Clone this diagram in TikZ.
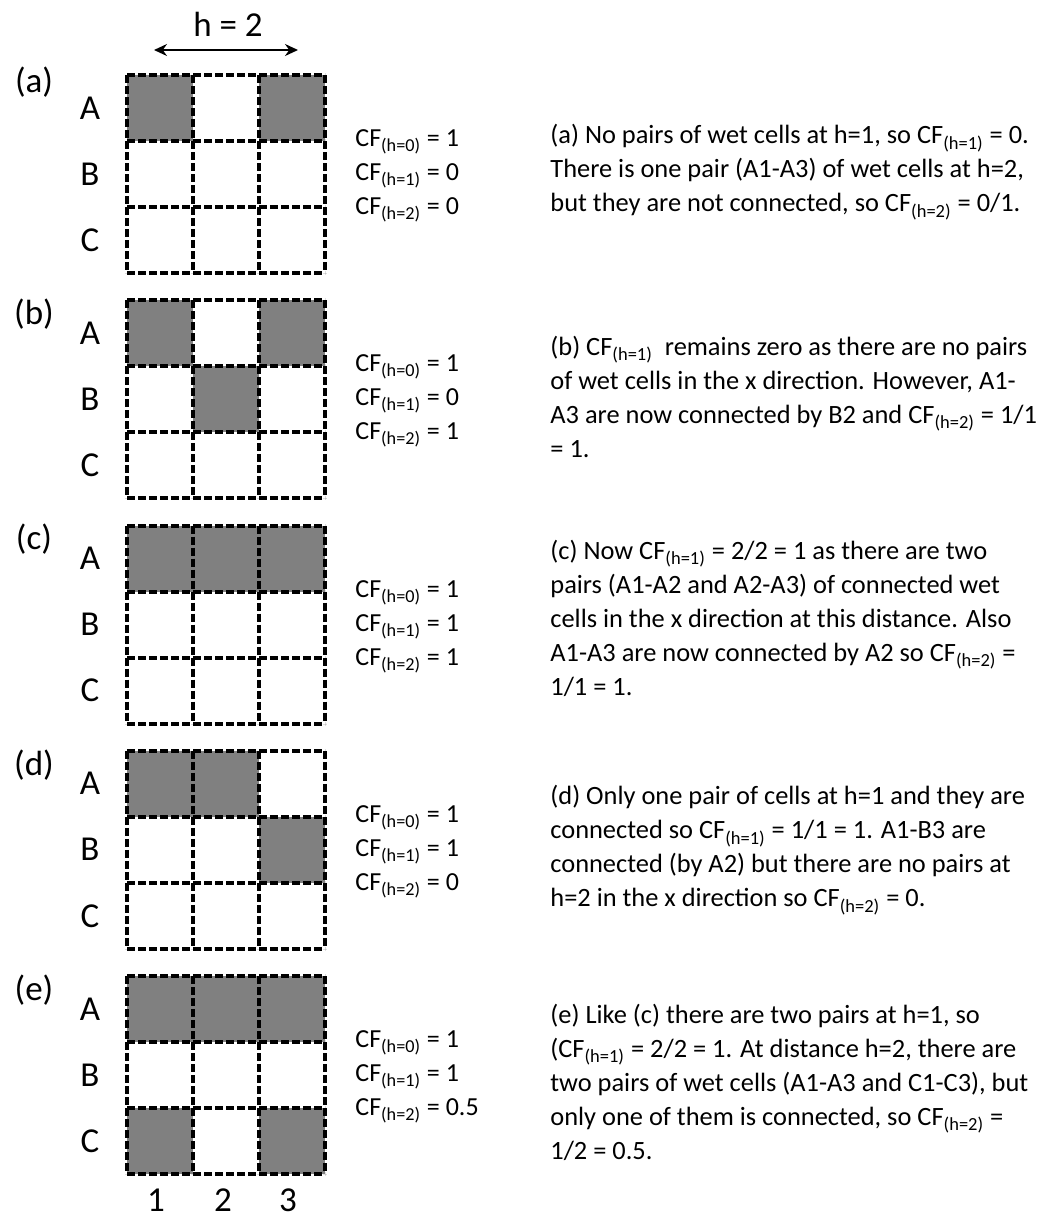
\documentclass[tikz,border=0pt]{standalone}
\usepackage{fontspec}
\setmainfont{Carlito}
\usetikzlibrary{arrows.meta,positioning}
\definecolor{wetgray}{RGB}{128,128,128}
\newcommand{\cfh}[1]{CF\textsubscript{(h=#1)}}

\begin{document}
\begin{tikzpicture}[x=0.5pt, y=-0.5pt,
    gridline/.style={line width=2pt, dash pattern=on 4pt off 1.5pt},
    wet/.style={fill=wetgray},
    biglab/.style={font=\fontsize{17.5}{20}\selectfont, inner sep=0pt},
    cfbox/.style={anchor=west, align=left, inner sep=0pt, font=\fontsize{13}{17}\selectfont},
    note/.style={anchor=west, align=left, inner sep=0pt, font=\fontsize{13.2}{17}\selectfont}]
  \useasboundingbox (0,0) rectangle (1059,1217);

  % lag distance
  \node[biglab] (hlab) at (228,24) {h = 2};
  \coordinate (hl) at (154,50);
  \coordinate (hr) at (298,50);
  \draw[line width=0.8pt, {Stealth[length=6.5pt,width=6pt]}-{Stealth[length=6.5pt,width=6pt]}] (hl) -- (hr);

  % the five grids
  \foreach \p/\wetlist/\cfa/\cfb/\dy [count=\i from 0] in
      {a/{0/0,2/0}/0/0/7, b/{0/0,2/0,1/1}/0/1/14, c/{0/0,1/0,2/0}/1/1/14,
       d/{0/0,1/0,2/1}/1/0/14, e/{0/0,1/0,2/0,0/2,2/2}/1/0.5/14} {
    \pgfmathsetmacro\t{75+225.25*\i}
    \foreach \c/\r in \wetlist
      \fill[wet] (127+66*\c, \t+66*\r) rectangle ++(66,66);
    \foreach \k in {0,...,3} {
      \draw[gridline] (127+66*\k, \t) -- ++(0,198);
      \draw[gridline] (127, \t+66*\k) -- ++(198,0);
    }
    \node[biglab] (lab-\p) at (34, \t+\dy) {(\p)};
    \node[biglab] (row-\p-A) at (90, \t+33) {A};
    \node[biglab] (row-\p-B) at (90, \t+99) {B};
    \node[biglab] (row-\p-C) at (90, \t+165) {C};
    \node[cfbox] (cf-\p) at (355, \t+101) {\cfh{0} = 1\\ \cfh{1} = \cfa\\ \cfh{2} = \cfb};
  }

  % column numbers
  \node[biglab, anchor=base] (col1) at (156,1211) {1};
  \node[biglab, anchor=base] (col2) at (223,1211) {2};
  \node[biglab, anchor=base] (col3) at (288,1211) {3};

  % explanations
  \node[note] (txt-a) at (550,172) {(a) No pairs of wet cells at h=1, so \cfh{1} = 0.\\
    There is one pair (A1-A3) of wet cells at h=2,\\
    but they are not connected, so \cfh{2} = 0/1.};
  \node[note] (txt-b) at (550,397) {(b) \cfh{1}\ \ remains zero as there are no pairs\\
    of wet cells in the x direction. However, A1-\\
    A3 are now connected by B2 and \cfh{2} = 1/1\\
    = 1.};
  \node[note] (txt-c) at (550,618) {(c) Now \cfh{1} = 2/2 = 1 as there are two\\
    pairs (A1-A2 and A2-A3) of connected wet\\
    cells in the x direction at this distance. Also\\
    A1-A3 are now connected by A2 so \cfh{2} =\\
    1/1 = 1.};
  \node[note] (txt-d) at (550,850) {(d) Only one pair of cells at h=1 and they are\\
    connected so \cfh{1} = 1/1 = 1. A1-B3 are\\
    connected (by A2) but there are no pairs at\\
    h=2 in the x direction so \cfh{2} = 0.};
  \node[note] (txt-e) at (550,1082) {(e) Like (c) there are two pairs at h=1, so\\
    (\cfh{1} = 2/2 = 1. At distance h=2, there are\\
    two pairs of wet cells (A1-A3 and C1-C3), but\\
    only one of them is connected, so \cfh{2} =\\
    1/2 = 0.5.};
\end{tikzpicture}
\end{document}
